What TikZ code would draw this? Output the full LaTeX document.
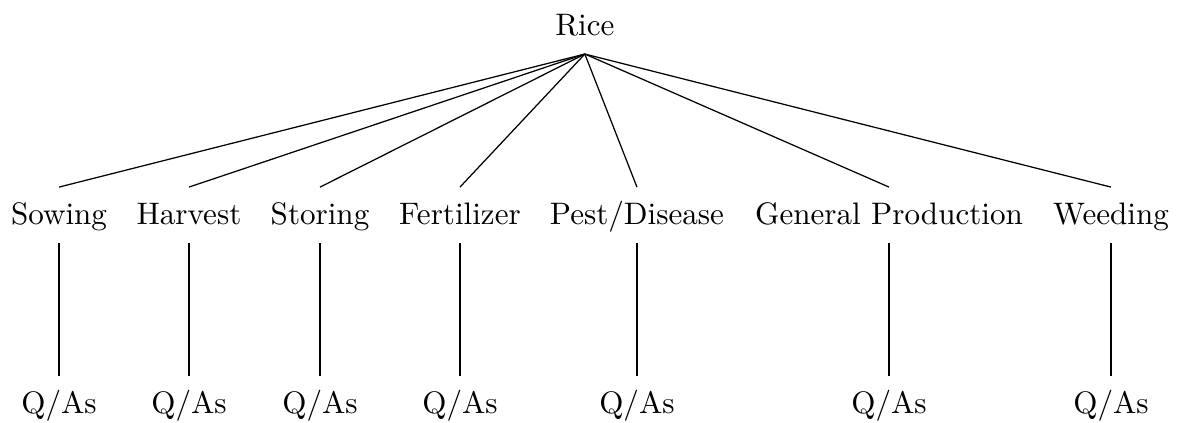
\documentclass[tikz,border=0pt]{standalone}
\usetikzlibrary{positioning}
\begin{document}
\begin{tikzpicture}[x=1cm,y=1cm]
\tikzset{
  treenode/.style={anchor=base,inner xsep=2pt,inner ysep=5pt,text height=6.9pt,text depth=0.8pt},
  treeedge/.style={thin}
}
\useasboundingbox (0,0) rectangle (13.348,-4.781);
\node[treenode] (n_rice) at (6.61,-0.40) {Rice};
\node[treenode] (n_sow) at (0.667,-2.54) {Sowing};
\node[treenode] (n_har) at (2.136,-2.54) {Harvest};
\node[treenode] (n_sto) at (3.617,-2.54) {Storing};
\node[treenode] (n_fer) at (5.199,-2.54) {Fertilizer};
\node[treenode] (n_pes) at (7.199,-2.54) {Pest/Disease};
\node[treenode] (n_gen) at (10.048,-2.54) {General Production};
\node[treenode] (n_wee) at (12.557,-2.54) {Weeding};
\node[treenode] (q_sow) at (0.667,-4.67) {Q/As};
\node[treenode] (q_har) at (2.136,-4.67) {Q/As};
\node[treenode] (q_sto) at (3.617,-4.67) {Q/As};
\node[treenode] (q_fer) at (5.199,-4.67) {Q/As};
\node[treenode] (q_pes) at (7.199,-4.67) {Q/As};
\node[treenode] (q_gen) at (10.048,-4.67) {Q/As};
\node[treenode] (q_wee) at (12.557,-4.67) {Q/As};
\foreach \n in {sow,har,sto,fer,pes,gen,wee}{
  \draw[treeedge] (n_rice.south) -- (n_\n.north);
  \draw[treeedge] (n_\n.south) -- (q_\n.north);
}
\end{tikzpicture}
\end{document}
